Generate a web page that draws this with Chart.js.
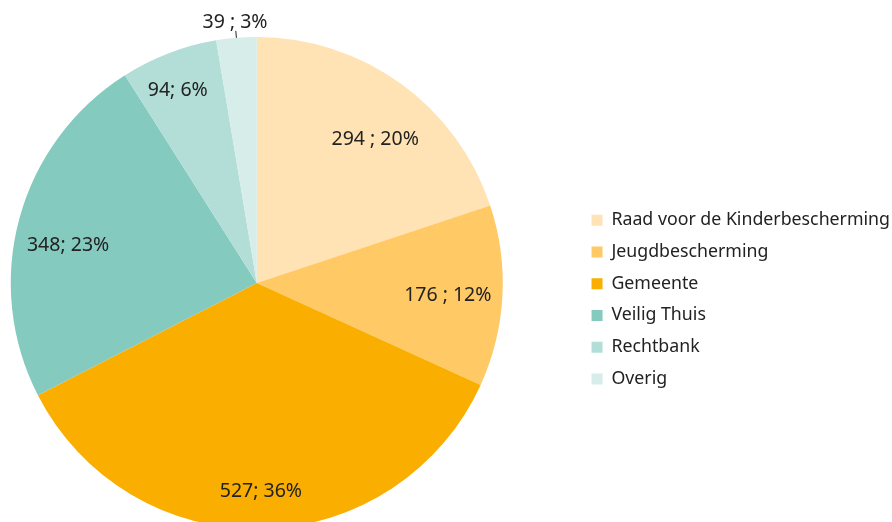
<!DOCTYPE html>
<html>
<head>
<meta charset="utf-8">
<script src="https://cdn.jsdelivr.net/npm/chart.js@4.4.0/dist/chart.umd.min.js"></script>
<style>
html, body { margin: 0; padding: 0; background: #fff; overflow: hidden; width: 892px; height: 522px; }
/* the pie runs off the left/bottom edge in the original, so the canvas is a bit bigger than the window */
#wrap { width: 964px; height: 529px; position: absolute; left: -64px; top: 0; }
</style>
</head>
<body>
<div id="wrap"><canvas id="chart"></canvas></div>
<script>
// data
const categories = ['Raad voor de Kinderbescherming', 'Jeugdbescherming', 'Gemeente', 'Veilig Thuis', 'Rechtbank', 'Overig']
const aantallen = [294, 176, 527, 348, 94, 39]
const sliceLabels = ['294 ; 20%', '176 ; 12%', '527; 36%', '348; 23%', '94; 6%', '39 ; 3%']

const colors = ['#ffe3b5', '#ffc965', '#f9ae00', '#85cabf', '#b3ded7', '#d6edea']
const textColor = '#222222'

// label placement: angle shift (deg) from slice middle, and radius fraction
const labelPlacement = [
    {shift: 3.5, r: 0.76},
    {shift: 0.4, r: 0.778},
    {shift: 0.2, r: 0.84},
    {shift: -3.6, r: 0.783},
    {shift: -1.2, r: 0.852},
    {shift: 0, r: 1.067}
]

const sliceLabelPlugin = {
    id: 'sliceLabels',
    afterDatasetsDraw(chart, args, opts) {
        const ctx = chart.ctx
        const arcs = chart.getDatasetMeta(0).data
        ctx.save()
        ctx.font = opts.size + 'px ' + opts.family
        ctx.fillStyle = opts.color
        ctx.strokeStyle = opts.color
        ctx.lineWidth = 1
        ctx.textAlign = 'center'
        ctx.textBaseline = 'alphabetic'
        arcs.forEach((arc, i) => {
            const p = arc.getProps(['x', 'y', 'startAngle', 'endAngle', 'outerRadius'], true)
            const place = opts.placement[i]
            const mid = (p.startAngle + p.endAngle) / 2
            const a = mid + place.shift * Math.PI / 180
            const r = p.outerRadius * place.r
            const x = p.x + Math.cos(a) * r
            const y = p.y + Math.sin(a) * r
            if (place.r > 1) {
                // small leader line for the label outside the pie
                ctx.beginPath()
                ctx.moveTo(p.x + Math.cos(mid) * p.outerRadius, p.y + Math.sin(mid) * p.outerRadius)
                ctx.lineTo(p.x + Math.cos(mid) * (p.outerRadius + 7), p.y + Math.sin(mid) * (p.outerRadius + 7))
                ctx.stroke()
            }
            ctx.fillText(sliceLabels[i], x, y + opts.size * 0.357)
        })
        ctx.restore()
    }
}

const ctx = document.getElementById('chart').getContext('2d')

const config = {
    type: 'pie',
    data: {
        labels: categories,
        datasets: [{
            data: aantallen,
            backgroundColor: colors,
            borderWidth: 0
        }]
    },
    options: {
        responsive: true,
        maintainAspectRatio: false,
        animation: false,
        layout: {
            padding: {top: 37, bottom: 0, left: 0, right: 0}
        },
        plugins: {
            tooltip: {enabled: false},
            legend: {
                position: 'right',
                align: 'center',
                title: {
                    display: true,
                    text: '',
                    font: {size: 10, lineHeight: 1},
                    padding: {top: 23, bottom: 0}
                },
                labels: {
                    boxWidth: 11,
                    boxHeight: 11,
                    padding: 14,
                    color: textColor,
                    font: {family: 'Noto Sans', size: 17.75}
                }
            },
            sliceLabels: {
                placement: labelPlacement,
                family: 'Noto Sans',
                size: 19.5,
                color: textColor
            }
        }
    },
    plugins: [sliceLabelPlugin]
}

const myChart = new Chart(ctx, config)
</script>
</body>
</html>
